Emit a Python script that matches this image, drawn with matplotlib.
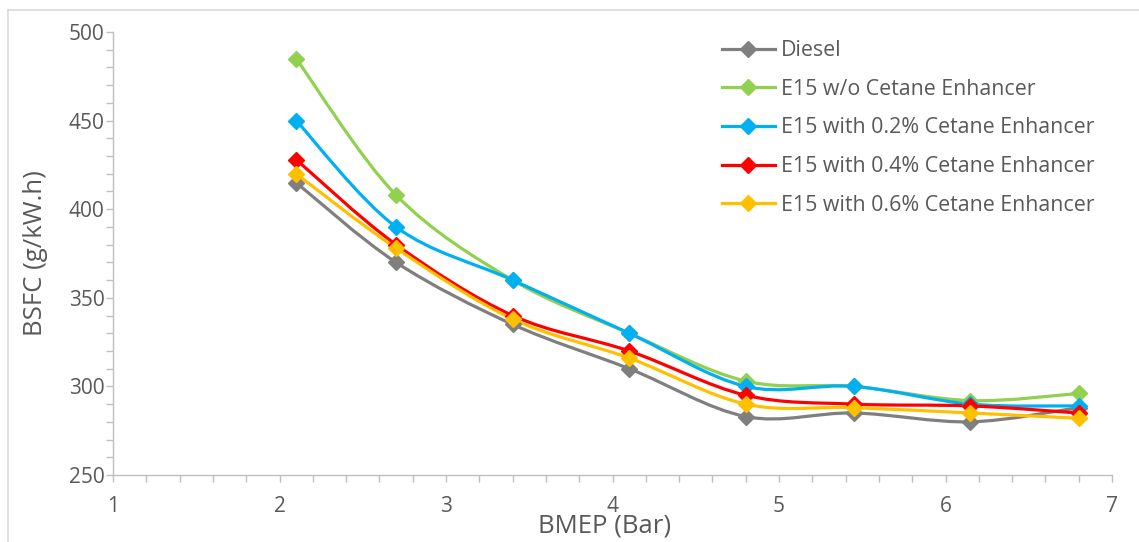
import numpy as np
import matplotlib
matplotlib.use("Agg")
import matplotlib.pyplot as plt
from matplotlib.path import Path
from matplotlib.patches import PathPatch
from matplotlib.lines import Line2D
from matplotlib.ticker import MultipleLocator

# ─── 数据 ───────────────────────────────────────────
bmep = [2.1, 2.7, 3.4, 4.1, 4.8, 5.45, 6.15, 6.8]
diesel = [415, 370, 335, 310, 283, 285, 280, 288]
e15_plain = [485, 408, 360, 330, 303, 300, 292, 296]
e15_02 = [450, 390, 360, 330, 300, 300, 290, 289]
e15_04 = [428, 380, 340, 320, 295, 290, 289, 285]
e15_06 = [420, 378, 338, 316, 290, 288, 285, 282]

series_names = ["Diesel", "E15 w/o Cetane Enhancer", "E15 with 0.2% Cetane Enhancer",
                "E15 with 0.4% Cetane Enhancer", "E15 with 0.6% Cetane Enhancer"]
series_vals = [diesel, e15_plain, e15_02, e15_04, e15_06]
colors = ["#7F7F7F", "#92D050", "#00B0F0", "#FF0000", "#FFC000"]

TXT = "#595959"
AX = "#BFBFBF"
plt.rcParams["font.family"] = ["Open Sans", "DejaVu Sans"]


def smooth_path(x, y):
    """Excel 风格平滑线：三次贝塞尔"""
    p = np.column_stack([x, y]).astype(float)
    pe = np.vstack([p[0], p, p[-1]])
    verts = [p[0]]
    codes = [Path.MOVETO]
    for i in range(len(p) - 1):
        c1 = pe[i + 1] + (pe[i + 2] - pe[i]) / 6.0
        c2 = pe[i + 2] - (pe[i + 3] - pe[i + 1]) / 6.0
        verts += [c1, c2, p[i + 1]]
        codes += [Path.CURVE4] * 3
    return Path(verts, codes)


fig = plt.figure(figsize=(11.39, 5.42), dpi=100)
ax = fig.add_axes([113 / 1139, 67 / 542, (1112 - 113) / 1139, (475 - 32) / 542])

# 图表外框（左、上）
fig.add_artist(Line2D([8 / 1139, 8 / 1139], [0, 1 - 10 / 542], transform=fig.transFigure,
                      color="#D9D9D9", linewidth=1.2))
fig.add_artist(Line2D([8 / 1139, 1], [1 - 10 / 542, 1 - 10 / 542], transform=fig.transFigure,
                      color="#D9D9D9", linewidth=1.2))

handles = []
for name, vals, c in zip(series_names, series_vals, colors):
    ax.add_patch(PathPatch(smooth_path(bmep, vals), facecolor="none", edgecolor=c,
                           linewidth=2.3, capstyle="round", joinstyle="round"))
    ax.plot(bmep, vals, linestyle="none", marker="D", markersize=8.5, color=c)
    handles.append(Line2D([], [], color=c, linewidth=2.3, marker="D", markersize=8.5, label=name))

ax.set_xlim(1, 7)
ax.set_ylim(250, 500)
ax.xaxis.set_major_locator(MultipleLocator(1))
ax.xaxis.set_minor_locator(MultipleLocator(0.2))
ax.yaxis.set_major_locator(MultipleLocator(50))
ax.yaxis.set_minor_locator(MultipleLocator(10))

for s in ["top", "right"]:
    ax.spines[s].set_visible(False)
for s in ["left", "bottom"]:
    ax.spines[s].set_color(AX)
    ax.spines[s].set_linewidth(1.0)

ax.tick_params(which="both", direction="out", color=AX, width=1.0, length=5)
ax.tick_params(which="major", labelsize=15, labelcolor=TXT)
ax.tick_params(axis="x", which="major", pad=10)
ax.tick_params(axis="y", which="major", pad=1)

ax.set_xlabel("BMEP (Bar)", fontsize=18.5, color=TXT, va="top")
ax.xaxis.set_label_coords(0.4925, -0.088)
ax.set_ylabel("BSFC (g/kW.h)", fontsize=18.5, color=TXT, va="center")
ax.yaxis.set_label_coords(-0.078, 0.5)

leg = ax.legend(handles=handles, loc="upper right", bbox_to_anchor=(0.995, 1.01), frameon=False,
                fontsize=15.4, handlelength=2.5, handletextpad=0.25, labelspacing=0.82,
                labelcolor=TXT, borderaxespad=0.2)

fig.savefig("out.png", dpi=100)
